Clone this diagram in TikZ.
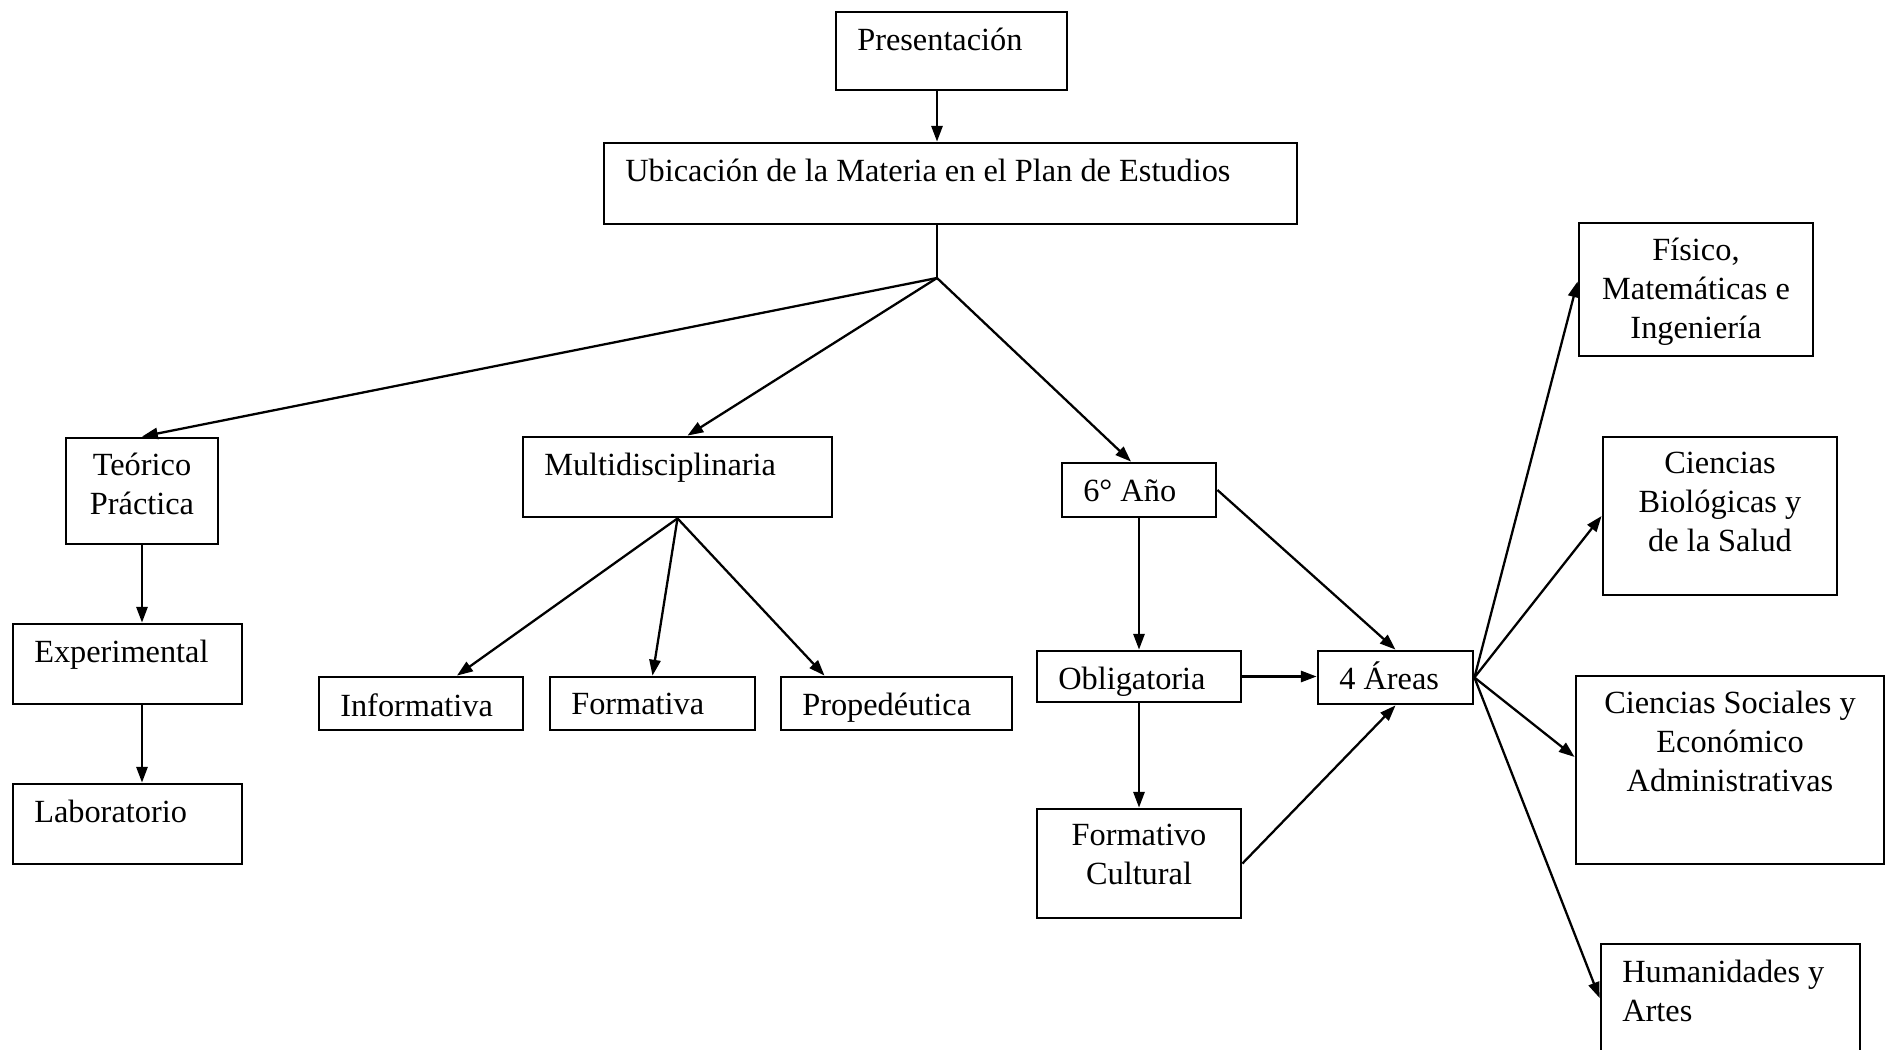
\documentclass[tikz,border=0pt]{standalone}
\usepackage{fontspec}
\setmainfont{Liberation Serif}
\usepackage{tikz}
\usetikzlibrary{calc}
\usetikzlibrary {arrows.meta,positioning}

\tikzset{
  box/.style={draw, rectangle, line width=0.8pt, inner sep=0pt},
  tl/.style={anchor=north west, inner sep=0pt, xshift=2.2mm, yshift=-1.7mm, align=left},
  tc/.style={anchor=north, inner sep=0pt, yshift=-1.6mm, align=center},
  arr/.style={-{Triangle[length=4.5pt,width=3.2pt]}, line width=0.65pt},
  plain/.style={line width=0.65pt},
}

\begin{document}
\begin{tikzpicture}[x=0.1mm, y=-0.1mm, font=\fontsize{9.2}{11}\selectfont]
\useasboundingbox (0,0) rectangle (1886,1050);

% top
\node[box, minimum width=23.1mm, minimum height=7.8mm, label={[tl]north west:Presentación}] (pres) at (951.5,51) {};
\node[box, minimum width=69.3mm, minimum height=8.1mm, label={[tl]north west:Ubicación de la Materia en el Plan de Estudios}] (ubic) at (950.5,183.5) {};
\coordinate (hub) at (937,278);

% second row
\node[box, minimum width=15.2mm, minimum height=10.6mm, label={[tc]north:Teórico\\Práctica}] (teor) at (142,491) {};
\node[box, minimum width=30.9mm, minimum height=8mm, label={[tl]north west:Multidisciplinaria}] (multi) at (677.5,477) {};
\node[box, minimum width=15.4mm, minimum height=5.4mm, label={[tl]north west:6° Año}] (anio) at (1139,490) {};

% left column
\node[box, minimum width=22.9mm, minimum height=8mm, label={[tl]north west:Experimental}] (exper) at (127.5,664) {};
\node[box, minimum width=22.9mm, minimum height=8mm, label={[tl]north west:Laboratorio}] (labor) at (127.5,824) {};

% multidisciplinaria
\node[box, minimum width=20.4mm, minimum height=5.3mm, label={[tl]north west:Informativa}] (infor) at (421,703.5) {};
\node[box, minimum width=20.5mm, minimum height=5.3mm, label={[tl]north west:Formativa}] (forma) at (652.5,703.5) {};
\node[box, minimum width=23.1mm, minimum height=5.3mm, label={[tl]north west:Propedéutica}] (prope) at (896.5,703.5) {};

% 6 anio
\node[box, minimum width=20.4mm, minimum height=5.1mm, label={[tl]north west:Obligatoria}] (oblig) at (1139,676.5) {};
\node[box, minimum width=20.4mm, minimum height=10.9mm, label={[tc]north:Formativo\\Cultural}] (fcult) at (1139,863.5) {};
\node[box, minimum width=15.5mm, minimum height=5.3mm, label={[tl, yshift=0.6mm]north west:4 Áreas}] (areas) at (1395.5,677.5) {};

% areas
\node[box, minimum width=23.4mm, minimum height=13.3mm, label={[tc]north:Físico,\\Matemáticas e\\Ingeniería}] (fisic) at (1696,289.5) {};
\node[box, minimum width=23.4mm, minimum height=15.8mm, label={[tc]north:Ciencias\\Biológicas y\\de la Salud}] (biolo) at (1720,516) {};
\node[box, minimum width=30.8mm, minimum height=18.8mm, label={[tc]north:Ciencias Sociales y\\Económico\\Administrativas}] (socia) at (1730,770) {};
\node[box, minimum width=25.9mm, minimum height=10.8mm, label={[tl]north west:Humanidades y\\Artes}] (human) at (1730.5,998) {};

% connectors
\draw[arr] (pres.south -| hub) -- (ubic.north -| hub);
\draw[plain] (ubic.south -| hub) -- (hub);
\draw[arr] (hub) -- (teor.north);
\draw[arr] (hub) -- ($(multi.north)+(10,0)$);
\draw[arr] (hub) -- ($(anio.north)+(-8,0)$);

\draw[arr] (teor.south) -- (teor.south |- exper.north);
\draw[arr] (teor.south |- exper.south) -- (teor.south |- labor.north);

\draw[arr] (multi.south) -- ($(infor.north)+(36,0)$);
\draw[arr] (multi.south) -- (forma.north);
\draw[arr] (multi.south) -- ($(prope.north)+(-72,0)$);

\draw[arr] (anio.south) -- (oblig.north);
\draw[arr] (oblig.south) -- (fcult.north);
\draw[arr] (oblig.east) -- (oblig.east -| areas.west);
\draw[arr] (anio.east) -- (areas.north);
\draw[arr] (fcult.east) -- (areas.south);

\draw[arr] (areas.east) -- ($(fisic.west)+(0,-8)$);
\draw[arr] (areas.east) -- (biolo.west);
\draw[arr] (areas.east) -- ($(socia.west)+(0,-13)$);
\draw[arr] (areas.east) -- (human.west);
\end{tikzpicture}
\end{document}
